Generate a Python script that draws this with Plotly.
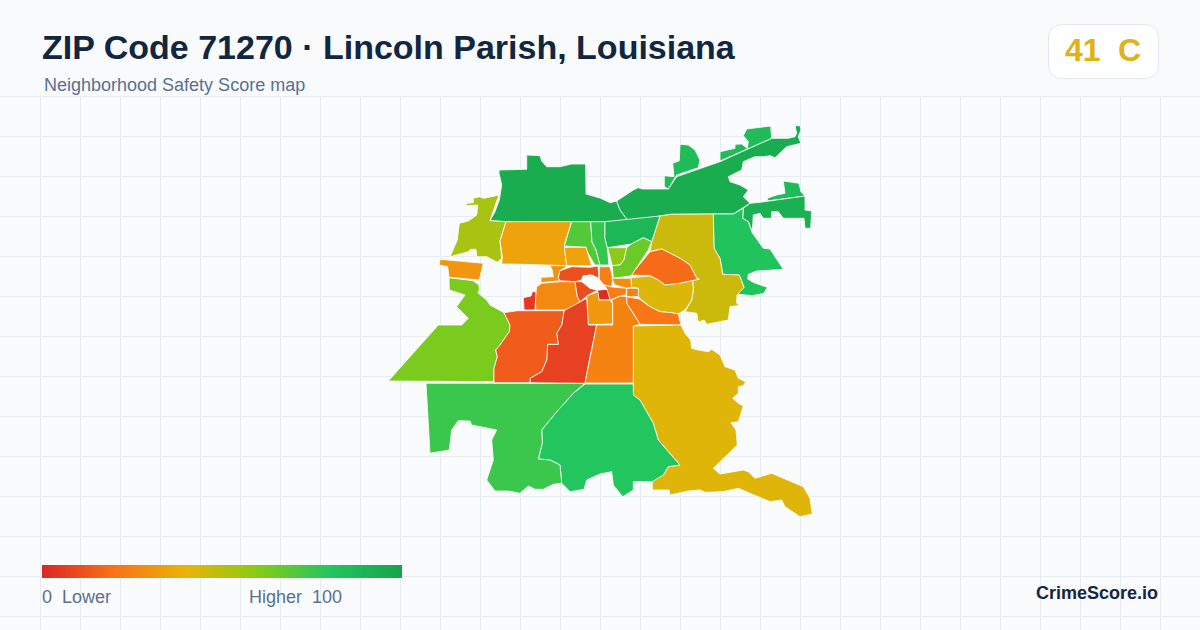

import plotly.graph_objects as go
from plotly.colors import sample_colorscale

WIDTH = 1200
HEIGHT = 630
FONT = "Liberation Sans, Arial, sans-serif"

SCORE_COLORSCALE = [
    [0.0, "#dc2626"],
    [0.2, "#f97316"],
    [0.4, "#eab308"],
    [0.6, "#84cc16"],
    [0.8, "#22c55e"],
    [1.0, "#16a34a"],
]

LEGEND_SCORES = list(range(0, 101))

# tract outlines, (x, y) in page pixels
north_block = [(526.7,155),(540,155.7),(541.7,161),(546.7,166.7),(560,166.7),(571.7,164),(585.7,164),(586,194),(600,198),(610,202.7),(616.7,201),(620,210),(628.3,221),(605,221.7),(571.7,221.7),(506,221.7),(490,220.7),(495,211.7),(499.3,200),(501.7,185),(499,173.3),(499,170),(526.7,169.3)]
northeast_band = [(616.7,201),(633.3,190),(638.3,187.7),(642.7,189),(668.3,189),(676.7,176.7),(708.3,165.7),(720,161.7),(743.3,151),(771.7,138.3),(788.3,138.3),(795,136.7),(796.7,133.3),(795,125.7),(800,125.7),(801,130),(798.3,136.7),(801,143.3),(786.7,146.7),(775,157.7),(770,155.7),(763.3,156.7),(755,156.7),(743.3,161.7),(741.7,170),(728.3,176.7),(730,181.7),(740,185),(748.3,190),(743.3,196.7),(750,203.3),(733.3,214),(713.3,214),(671,214.3),(660,216),(628.3,221),(620,210)]
top_right_lobe = [(720,161),(720,151.7),(735,148.3),(735,144.3),(741.7,144),(747.3,148.3),(748.3,141.7),(743.3,135.7),(746.7,129),(770.7,126),(771.7,138.3),(743.3,151)]
top_mid_lobe = [(680,144.3),(688.3,145),(695,150),(700,160),(698.3,167.7),(676.7,175),(668.3,189),(664.3,186.7),(664.3,175.7),(674,176.7),(672.7,163.3),(679.3,160.7)]
far_east_cap = [(783.3,181),(799,183.3),(801,191.7),(805,196),(766.7,201),(768.3,197.7),(776.7,195),(785,193.3)]
far_east_strip = [(750,203.3),(760,202.3),(805,196),(805,210),(811.7,211),(810.7,228.3),(805,228.3),(804,218.3),(783.3,218.3),(778.3,211.7),(771.7,211.7),(771.7,218.3),(763.3,218.3),(760,213.3),(753.3,215),(752.3,231.7),(748.3,221.7),(742.7,218.3),(743.3,208.3)]
east_green = [(713.3,214),(733.3,214),(743.3,208.3),(742.7,218.3),(748.3,221.7),(752.3,233),(763.3,248.3),(770,249),(783.3,269.3),(756.7,271),(748.3,274.3),(747.7,279),(754,282.7),(767.3,287.3),(764,293.3),(752,295.7),(737,294),(744,287.3),(739.3,275),(722.7,274.3),(720,258.3),(714,248.3)]
east_olive = [(671,214.3),(713.3,214),(714,248.3),(720,258.3),(722.7,274.3),(739.3,275),(744,287.3),(737,295),(736.7,303.3),(740,305.3),(730,306.7),(728.3,320),(715,322.7),(706.7,324.3),(704,320),(698.3,322.3),(696.7,313.3),(685,311.7),(691.7,300),(693.3,290),(692.7,280.7),(699.3,279),(696.7,278.3),(690,265),(680,258.3),(661.7,249),(650,251.7),(651.7,241.7),(660,216)]
east_orange = [(661.7,249),(680,258.3),(690,265),(696.7,278.3),(699.3,279),(692.7,280.7),(680,283.3),(665,285),(658.3,280),(650,275.7),(631,275),(650,251.7)]
ring_yellow = [(630.7,277.7),(650,276),(658.3,280),(665,285),(680,283.3),(692.7,280.7),(693.3,290),(691.7,300),(685,310),(678,314),(671,312.7),(660,311.7),(650,306.7),(638.3,297),(638.3,288.3),(631.7,287.3)]
southeast_orange = [(626.7,296.7),(639.3,299),(650,306.7),(660,311.7),(671.7,312.7),(678.3,314),(681,325),(640,324.3),(633.3,313.3),(626.7,303.3)]
southeast_yellow = [(633.3,326),(681,325),(685,333.3),(690.7,340),(691.7,348.3),(698.3,350),(708.3,351.7),(711.7,349.3),(720,355),(725,366.7),(735,370),(738.3,378.3),(745.7,381.7),(743.3,385.7),(738.3,386.7),(738.3,393.3),(732.7,398.3),(738.3,403.3),(743.3,406),(738.3,421.7),(731,422.7),(736,430),(737.3,445),(726.7,455),(713.3,468.3),(720,474),(743.3,470),(748.3,471.7),(755,478.3),(771.7,473.3),(786.7,480),(803.3,486.7),(810,498.3),(812.3,514),(800,516.7),(785,506.7),(781.7,500),(770,501.7),(750,493.3),(738.3,488.3),(723.3,491.7),(705,492.3),(700,490),(688.3,491),(670,495),(669,490),(652.3,490),(652.3,480),(663.3,475),(668.3,466.7),(680,465),(668.3,451.7),(658.3,440),(653.3,423.3),(640,400),(633.3,395)]
south_green = [(585,384),(633.3,384),(633.3,395),(640,400),(653.3,423.3),(658.3,440),(668.3,451.7),(680,465),(668.3,466.7),(663.3,475),(652.3,481.7),(633.3,481.7),(633.3,490),(622.7,496.7),(613.3,485),(611.7,471.7),(600,474),(586.7,480),(584,489.3),(570,491.7),(561.7,483.3),(560,465),(550,460),(538.3,459),(542.3,443.3),(541.7,430),(556.7,411.7),(573.3,393.3)]
southwest_green = [(426,383.3),(585,383.3),(573.3,393.3),(556.7,411.7),(541.7,430),(542.3,443.3),(538.3,459),(550,460),(560,465),(561.7,483.3),(553.3,484.3),(543.3,489.3),(535,489.3),(528.3,486),(520,493.3),(508.3,491),(495,491),(486.7,480),(493.3,460),(491.7,440),(496.7,430),(471.7,425),(470,421),(458.3,420.7),(451.7,430),(449.3,450),(430,453.3)]
west_lime = [(449,277.7),(473,280.7),(479,285),(479.3,290),(478,293),(486.7,300),(490,305),(504,312.7),(510,325),(509.3,331.7),(500,345),(495.7,350),(497.3,356.7),(494,368.3),(494,381.7),(388.3,381),(438.3,325),(461.7,325),(468.3,318.3),(456.7,306.7),(465,295),(449.3,290)]
west_small_orange = [(440,259.3),(483.3,263.3),(481.7,270),(479.3,280),(449,277.3),(447.7,266.7),(439.3,265)]
west_olive = [(499.3,195),(496.7,201),(490,220.7),(506,221.7),(500,241),(501.7,258.3),(497.3,262.3),(486.7,256.7),(476.7,256.7),(476,249.3),(470.7,249.3),(468.3,251.7),(450,256.7),(457.3,240),(459.3,223.3),(468.3,221),(476.7,215),(477.7,205),(466,205.7),(466.7,203.3),(473.3,202.7),(473.3,198.3),(479.3,196.7),(484,198.3)]
north_amber = [(506,221.7),(571.7,221.7),(564.3,245),(566.7,265.7),(523.3,264.3),(501.7,264),(502.3,256.7),(500,241)]
north_lime_a = [(571.7,221.7),(590.7,221.7),(592,242),(596,250),(600,265),(595,265),(586,250),(586,247.3),(564.3,246)]
north_green_b = [(590.7,221.7),(605,221.7),(605,238.3),(607.3,247.7),(609,265),(600,265),(596,250),(592,242)]
north_green_c = [(605,221.7),(660,216),(651.7,241.7),(643.3,237.7),(631.7,244),(607.3,247.7),(605,238.3)]
north_lime_d = [(607.7,247.7),(626.7,247.7),(624,260),(620,265),(612.3,265.7)]
north_lime_e = [(626.7,247.7),(631.7,243.7),(643.3,237.7),(651.7,241.7),(648.3,250),(631.7,275),(630,276),(613.3,278.3),(612.3,265.7),(620,265),(624,260)]
center_amber_top = [(564.3,247.3),(586,247.3),(591.7,265.7),(566.7,265.7)]
center_west_notch = [(550,265.7),(567.7,265.7),(560,270.7),(558.3,277.3),(560,280.7),(541,282.7),(541,277.3),(553.3,276.7),(552.3,270)]
center_north_red = [(560,270.7),(571.7,266.7),(590,267.3),(598,266),(599,278),(590,275),(583.3,276),(581.7,280),(575,281.7),(560,280.7),(558.3,278)]
center_west_orange = [(536.7,286.7),(541.7,283.3),(560,281.7),(575,281.7),(577.3,296.7),(580,301.7),(570,309.3),(563.3,310),(536,310),(535,298.3)]
center_west_red = [(523.3,297.7),(531,296),(532.3,291.7),(536,291.7),(535,310),(524,310)]
center_wedge = [(575,281.7),(581.7,281.7),(590,288.3),(598,290),(588.3,295),(580,301.7),(577.3,296.7)]
center_dark_red = [(597.3,290),(607,289.3),(609.3,293.3),(610,300),(599.3,300),(597.3,295)]
center_south_amber = [(586.7,296),(598,291.7),(599,300),(610,300),(612.7,303.3),(612.7,324),(588.3,324.7)]
south_red_long = [(564,310.7),(586.7,298.3),(588.3,325),(596.7,325),(590,356.7),(585,383.3),(530,382.7),(530,378.3),(541.7,371.7),(546.7,360),(547.7,344.3),(558.3,344.3),(556.7,333.3),(561.7,325)]
southwest_red_orange = [(504,312.7),(517.3,310.7),(564,310.7),(561.7,325),(556.7,333.3),(558.3,344.3),(547.7,344.3),(546.7,360),(541.7,371.7),(530,378.3),(530,382.7),(494,382.7),(494,368.3),(497.3,356.7),(495.7,350),(500,345),(509.3,331.7),(510,325)]
south_orange = [(596.7,325),(612.7,325),(612.7,303.3),(611.7,300),(620,296),(626.7,296.7),(626.7,303.3),(633.3,313.3),(640,324.3),(633.3,326),(633.3,383),(585,383),(590,356.7)]
core_north = [(599.3,266.7),(610,266.7),(612.7,278.3),(611.7,286.7),(603.3,285),(599.3,280)]
core_east = [(611.7,278.3),(630.7,278.3),(631.7,287.3),(626.7,288.3),(615,285)]
core_south = [(604,285),(611.7,287),(626.7,288.3),(626,295),(620,296),(610,300),(607,289.3)]
core_square = [(626.7,288.3),(638.3,288.3),(638.3,296.7),(626.7,296.7)]
core_no_data = [(583,276),(592,275),(599,279),(604,285),(607,289),(597,290),(590,288),(582,280)]

TRACTS = [
    north_block, northeast_band, top_right_lobe, top_mid_lobe, far_east_cap, far_east_strip,
    east_green, east_olive, east_orange, ring_yellow, southeast_orange, southeast_yellow,
    south_green, southwest_green, west_lime, west_small_orange, west_olive, north_amber,
    north_lime_a, north_green_b, north_green_c, north_lime_d, north_lime_e, center_amber_top,
    center_west_notch, center_north_red, center_west_orange, center_west_red, center_wedge,
    center_dark_red, center_south_amber, south_red_long, southwest_red_orange, south_orange,
    core_north, core_east, core_south, core_square, core_no_data,
]
SCORES = [
    94, 94, 85, 85, 86, 92,
    81, 46, 18, 43, 21, 42,
    80, 75, 62, 31, 53, 35,
    70, 76, 88, 58, 65, 35,
    30, 11, 27, 5, 10,
    1, 32, 7, 14, 25,
    24, 28, 23, 24, None,
]


def score_color(score):
    if score is None:
        return "#ffffff"
    return sample_colorscale(SCORE_COLORSCALE, score / 100.0, colortype="rgb")[0]


fig = go.Figure()

for outline, score in zip(TRACTS, SCORES):
    xs = [p[0] for p in outline] + [outline[0][0]]
    ys = [p[1] for p in outline] + [outline[0][1]]
    fig.add_trace(
        go.Scatter(
            x=xs,
            y=ys,
            mode="lines",
            fill="toself",
            fillcolor=score_color(score),
            line={"color": "#ffffff", "width": 0.8},
            hoverinfo="skip",
            showlegend=False,
        )
    )

# legend bar
fig.add_trace(
    go.Heatmap(
        x=LEGEND_SCORES,
        y=[0, 1],
        z=[LEGEND_SCORES, LEGEND_SCORES],
        zmin=0,
        zmax=100,
        zsmooth="best",
        colorscale=SCORE_COLORSCALE,
        showscale=False,
        hoverinfo="skip",
        xaxis="x2",
        yaxis="y2",
    )
)


def label(text, x, y, size, color, bold=False, anchor="left"):
    fig.add_annotation(
        x=x,
        y=y,
        xref="x",
        yref="y",
        text=f"<b>{text}</b>" if bold else text,
        showarrow=False,
        xanchor=anchor,
        yanchor="middle",
        borderpad=0,
        borderwidth=0,
        font={"family": FONT, "size": size, "color": color},
    )


label("ZIP Code 71270 · Lincoln Parish, Louisiana", 41.5, 47, 34, "#12263f", bold=True)
label("Neighborhood Safety Score map", 44, 85, 18, "#5a7090")
label("41", 1065, 50, 32, "#e3b015", bold=True)
label("C", 1118, 50, 32, "#e3b015", bold=True)
label("0\u00a0\u00a0Lower", 42, 597, 18, "#5a7090")
label("Higher\u00a0\u00a0100", 249, 597, 18, "#5a7090")
label("CrimeScore.io", 1158, 593, 18, "#14263f", bold=True, anchor="right")

fig.update_layout(
    width=WIDTH,
    height=HEIGHT,
    margin={"l": 0, "r": 0, "t": 0, "b": 0},
    paper_bgcolor="#f8fafc",
    plot_bgcolor="#f9fbfc",
    showlegend=False,
    xaxis={
        "range": [0, WIDTH],
        "domain": [0, 1],
        "tick0": 0.5,
        "dtick": 40,
        "showgrid": True,
        "gridcolor": "#e6edf2",
        "gridwidth": 1,
        "zeroline": False,
        "showticklabels": False,
        "ticks": "",
        "fixedrange": True,
    },
    yaxis={
        "range": [HEIGHT, 0],
        "domain": [0, 1],
        "tick0": 96.5,
        "dtick": 40,
        "showgrid": True,
        "gridcolor": "#e6edf2",
        "gridwidth": 1,
        "zeroline": False,
        "showticklabels": False,
        "ticks": "",
        "fixedrange": True,
    },
    xaxis2={
        "domain": [42 / WIDTH, 402 / WIDTH],
        "range": [0, 100],
        "anchor": "y2",
        "visible": False,
        "fixedrange": True,
    },
    yaxis2={
        "domain": [1 - 578 / HEIGHT, 1 - 565 / HEIGHT],
        "range": [0, 1],
        "anchor": "x2",
        "visible": False,
        "fixedrange": True,
    },
    shapes=[
        # header band hides the grid above the map area
        {"type": "rect", "xref": "x", "yref": "y", "x0": 0, "x1": WIDTH, "y0": 0, "y1": 96,
         "fillcolor": "#f8fafc", "line": {"width": 0}, "layer": "above"},
        # score badge
        {"type": "path", "xref": "x", "yref": "y", "layer": "above",
         "path": "M 1062.5 24.5 L 1144.5 24.5 Q 1158.5 24.5 1158.5 38.5 L 1158.5 64.5 "
                 "Q 1158.5 78.5 1144.5 78.5 L 1062.5 78.5 Q 1048.5 78.5 1048.5 64.5 "
                 "L 1048.5 38.5 Q 1048.5 24.5 1062.5 24.5 Z",
         "fillcolor": "#ffffff", "line": {"color": "#e2e8f0", "width": 1}},
    ],
)

fig.write_html(
    "out.html",
    config={"displayModeBar": False},
    post_script="document.body.style.margin='0';",
)
